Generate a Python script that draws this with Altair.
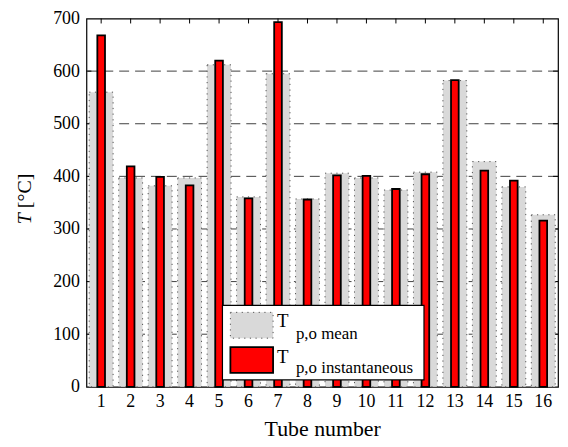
import altair as alt
import pandas as pd

# ---- data ----
tubes = [str(i) for i in range(1, 17)]
t_mean = [560, 397, 382, 397, 612, 361, 595, 357, 406, 397, 374, 408, 582, 428, 380, 327]
t_inst = [668, 419, 399, 383, 620, 358, 693, 356, 402, 401, 376, 404, 583, 411, 392, 316]
y_ticks = [0, 100, 200, 300, 400, 500, 600, 700]
grid_values = [100, 200, 300, 400, 500, 600]
legend_main = ["T", "T"]
legend_sub = ["p,o mean", "p,o instantaneous"]

FONT = "Liberation Serif"
W, H = 475, 371

df = pd.DataFrame({"tube": tubes, "mean": t_mean, "inst": t_inst})
grid_df = pd.DataFrame({"v": grid_values})
ytick_df = pd.DataFrame({"v": y_ticks[1:-1]})
one = pd.DataFrame({"a": [0]})

xscale = alt.Scale(domain=tubes, paddingInner=0, paddingOuter=0)
yscale = alt.Scale(domain=[0, 700], nice=False, zero=True)

x_axis = alt.Axis(title="Tube number", labelAngle=0, ticks=False, domain=False, grid=False,
                  labelFont=FONT, labelFontSize=18, labelColor="black", labelPadding=6,
                  titleFont=FONT, titleFontSize=22, titleFontWeight="normal",
                  titleColor="black", titlePadding=8)
y_axis = alt.Axis(values=y_ticks, title=None, grid=False, ticks=False, domain=False,
                  labelFont=FONT, labelFontSize=18, labelColor="black", labelPadding=7)


def X(field, **kw):
    return alt.X(field, scale=xscale, sort=tubes, axis=x_axis, **kw)


def Y(field):
    return alt.Y(field, scale=yscale, axis=y_axis)


grid = alt.Chart(grid_df).mark_rule(color="#404040", strokeWidth=1, strokeDash=[10, 6]).encode(
    y=Y("v:Q")
)

ytl = alt.Chart(ytick_df).mark_rule(color="black", strokeWidth=1).encode(
    y=Y("v:Q"), x=alt.value(0), x2=alt.value(5)
)
ytr = alt.Chart(ytick_df).mark_rule(color="black", strokeWidth=1).encode(
    y=Y("v:Q"), x=alt.value(W - 5), x2=alt.value(W)
)
xtt = alt.Chart(df).mark_rule(color="black", strokeWidth=1).encode(
    x=X("tube:N", bandPosition=0.5), y=alt.value(0), y2=alt.value(5)
)
xtb = alt.Chart(df).mark_rule(color="black", strokeWidth=1).encode(
    x=X("tube:N", bandPosition=0.5), y=alt.value(H - 5), y2=alt.value(H)
)

grey = alt.Chart(df).mark_bar(
    width=alt.RelativeBandSize(0.81), color="#d9d9d9", stroke="#555555",
    strokeDash=[1.2, 4.5], strokeWidth=1
).encode(
    x=X("tube:N"),
    y=Y("mean:Q"),
)

red = alt.Chart(df).mark_bar(
    width=alt.RelativeBandSize(0.26), color="#ff0000", stroke="black", strokeWidth=1.8
).encode(
    x=X("tube:N"),
    y=Y("inst:Q"),
)

# ---- legend drawn inside the plot ----
OY = -3
leg_box = alt.Chart(one).mark_rect(fill="white", stroke="black", strokeWidth=1.2).encode(
    x=alt.value(137), x2=alt.value(340), y=alt.value(292 + OY), y2=alt.value(367 + OY)
)
leg_sw1 = alt.Chart(one).mark_rect(fill="#d9d9d9", stroke="#555555", strokeDash=[1.2, 4.5], strokeWidth=1).encode(
    x=alt.value(145), x2=alt.value(188), y=alt.value(299 + OY), y2=alt.value(325 + OY)
)
leg_sw2 = alt.Chart(one).mark_rect(fill="#ff0000", stroke="black", strokeWidth=1.8).encode(
    x=alt.value(145), x2=alt.value(188), y=alt.value(334 + OY), y2=alt.value(360 + OY)
)
leg_t1 = alt.Chart(one).mark_text(font=FONT, fontSize=19, align="left", baseline="alphabetic", color="black",
                                  text=legend_main[0]).encode(x=alt.value(192), y=alt.value(314 + OY))
leg_t2 = alt.Chart(one).mark_text(font=FONT, fontSize=19, align="left", baseline="alphabetic", color="black",
                                  text=legend_main[1]).encode(x=alt.value(192), y=alt.value(350 + OY))
leg_s1 = alt.Chart(one).mark_text(font=FONT, fontSize=17, align="left", baseline="alphabetic", color="black",
                                  text=legend_sub[0]).encode(x=alt.value(211), y=alt.value(326 + OY))
leg_s2 = alt.Chart(one).mark_text(font=FONT, fontSize=17, align="left", baseline="alphabetic", color="black",
                                  text=legend_sub[1]).encode(x=alt.value(211), y=alt.value(360 + OY))

# ---- y title: italic T + [°C] ----
yt1 = alt.Chart(one).mark_text(font=FONT, fontSize=20, fontStyle="italic", angle=270, align="right",
                               baseline="middle", color="black", text="T").encode(
    x=alt.value(-62), y=alt.value(196))
yt2 = alt.Chart(one).mark_text(font=FONT, fontSize=20, angle=270, align="left",
                               baseline="middle", color="black", text="[°C]").encode(
    x=alt.value(-62), y=alt.value(191))

chart = alt.layer(
    grid, ytl, ytr, xtt, xtb, grey, red,
    leg_box, leg_sw1, leg_sw2, leg_t1, leg_t2, leg_s1, leg_s2, yt1, yt2
).properties(
    width=W, height=H,
    autosize=alt.AutoSizeParams(type="none"),
    padding={"left": 79, "top": 9, "right": 2, "bottom": 55},
    background="white",
).configure_view(stroke="black", strokeWidth=1.2)

chart.save("out.html", embed_options={"renderer": "svg", "actions": False})
